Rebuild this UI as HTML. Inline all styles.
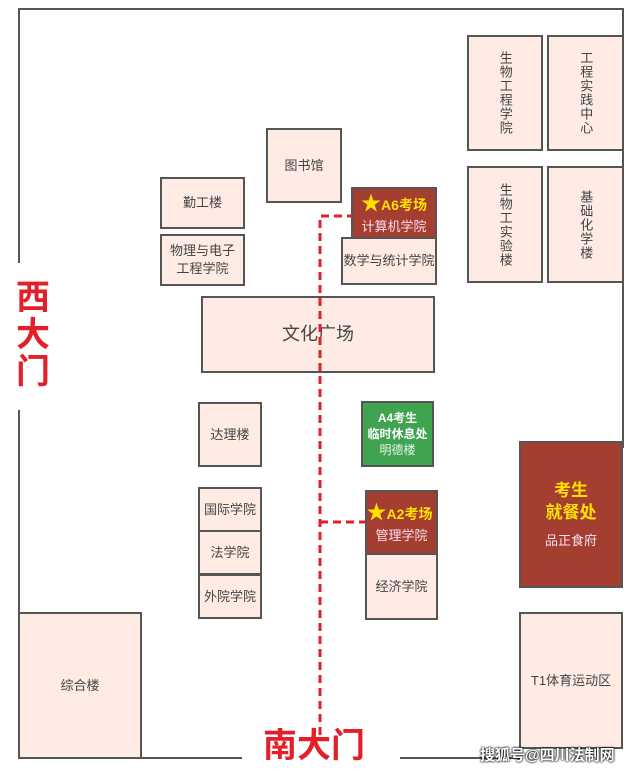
<!DOCTYPE html>
<html><head><meta charset="utf-8"><style>
body{margin:0;width:634px;height:773px;background:#fff;position:relative;overflow:hidden;font-family:"Liberation Sans","Noto Sans CJK SC",sans-serif}
.b{position:absolute;box-sizing:border-box;border:2px solid #555;background:#fdebe4;color:#444;font-size:13px;display:flex;align-items:center;justify-content:center;text-align:center;line-height:1.35}
.v{writing-mode:vertical-rl;letter-spacing:1px}
.r{background:#a33e31;color:#fde;flex-direction:column}
.y{color:#ffe000;font-weight:bold;font-size:14px}
.l{position:absolute;background:#555}
.d{position:absolute}
.gate{position:absolute;color:#e3202a;font-weight:bold;font-size:34px;line-height:1}
</style></head><body>
<div class="l" style="left:18px;top:8px;width:605px;height:2px"></div>
<div class="l" style="left:18px;top:8px;width:2px;height:255px"></div>
<div class="l" style="left:18px;top:410px;width:2px;height:204px"></div>
<div class="l" style="left:622px;top:8px;width:2px;height:440px"></div>
<div class="l" style="left:140px;top:757px;width:102px;height:2px"></div>
<div class="l" style="left:400px;top:757px;width:120px;height:2px"></div>

<div class="b v" style="left:467px;top:35px;width:76px;height:116px">生物工程学院</div>
<div class="b v" style="left:547px;top:35px;width:77px;height:116px">工程实践中心</div>
<div class="b v" style="left:467px;top:166px;width:76px;height:117px">生物工实验楼</div>
<div class="b v" style="left:547px;top:166px;width:77px;height:117px">基础化学楼</div>
<div class="b" style="left:266px;top:128px;width:76px;height:75px">图书馆</div>
<div class="b" style="left:160px;top:177px;width:85px;height:52px">勤工楼</div>
<div class="b" style="left:160px;top:234px;width:85px;height:52px">物理与电子<br>工程学院</div>
<div class="b r" style="left:351px;top:187px;width:86px;height:52px"><span class="y" style="font-size:14px"><span style="font-size:20px">★</span>A6考场</span><span>计算机学院</span></div>
<div class="b" style="left:341px;top:237px;width:96px;height:48px">数学与统计学院</div>
<div class="b" style="left:201px;top:296px;width:234px;height:77px;font-size:18px">文化广场</div>
<div class="b" style="left:198px;top:402px;width:64px;height:65px">达理楼</div>
<div class="b" style="left:361px;top:401px;width:73px;height:66px;background:#3fa350;color:#e8f5e8;flex-direction:column;font-size:12px"><b style="color:#fff">A4考生<br>临时休息处</b><span>明德楼</span></div>
<div class="b" style="left:198px;top:487px;width:64px;height:45px">国际学院</div>
<div class="b" style="left:198px;top:530px;width:64px;height:45px">法学院</div>
<div class="b" style="left:198px;top:574px;width:64px;height:45px">外院学院</div>
<div class="b r" style="left:365px;top:490px;width:73px;height:65px"><span class="y" style="font-size:14px;margin-left:-4px"><span style="font-size:20px">★</span>A2考场</span><span>管理学院</span></div>
<div class="b" style="left:365px;top:553px;width:73px;height:67px">经济学院</div>
<div class="b r" style="left:519px;top:441px;width:104px;height:147px"><span class="y" style="font-size:17px;line-height:1.3">考生<br>就餐处</span><span style="margin-top:8px">品正食府</span></div>
<div class="b" style="left:18px;top:612px;width:124px;height:147px">综合楼</div>
<div class="b" style="left:519px;top:612px;width:104px;height:137px">T1体育运动区</div>

<svg class="d" style="left:0;top:0" width="634" height="773"><g stroke="#e3202a" stroke-width="3" stroke-dasharray="8,5" fill="none">
<path d="M320 735V216H351"/><path d="M320 522H365"/></g></svg>

<div class="gate" style="left:16px;top:280px;width:36px;line-height:37px">西<br>大<br>门</div>
<div class="gate" style="left:263px;top:729px">南大门</div>
<div style="position:absolute;left:480px;top:744px;color:#fff;font-size:15px;font-weight:bold;text-shadow:0 0 2px #000,0 0 2px #000">搜狐号@四川法制网</div>
</body></html>
